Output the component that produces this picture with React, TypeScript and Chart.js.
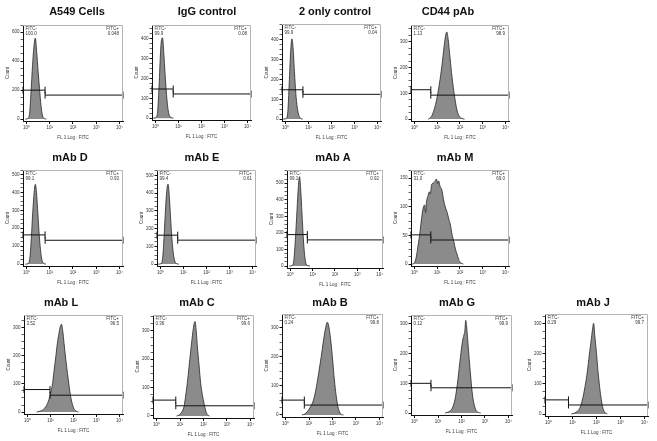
import React, { useEffect, useRef } from "react";
import { Chart, registerables } from "chart.js";

Chart.register(...registerables);

// Panel titles, row by row
const TITLES = [
  "A549 Cells", "IgG control", "2 only control", "CD44 pAb",
  "mAb D", "mAb E", "mAb A", "mAb M",
  "mAb L", "mAb C", "mAb B", "mAb G", "mAb J",
];

// Histograms: [log10 FL1 intensity, event count]
const HIST_A549: [number, number][] = [
  [-0.05, 0], [0.06, 4], [0.14, 50], [0.2, 200], [0.26, 370], [0.32, 500], [0.38, 560],
  [0.44, 460], [0.5, 330], [0.56, 210], [0.62, 100], [0.68, 30], [0.75, 6], [0.85, 0],
];
const HIST_IGG: [number, number][] = [
  [-0.1, 0], [0.04, 5], [0.1, 40], [0.16, 170], [0.22, 330], [0.27, 400], [0.31, 405],
  [0.36, 330], [0.42, 220], [0.48, 120], [0.54, 50], [0.6, 15], [0.68, 3], [0.78, 0],
];
const HIST_2ONLY: [number, number][] = [
  [-0.1, 0], [0.05, 4], [0.11, 50], [0.17, 200], [0.23, 350], [0.28, 405], [0.33, 360],
  [0.39, 240], [0.45, 130], [0.51, 60], [0.58, 20], [0.66, 4], [0.75, 0],
];
const HIST_CD44: [number, number][] = [
  [0.6, 0], [0.67, 3], [0.8, 20], [0.97, 73], [1.1, 140], [1.2, 202], [1.3, 280], [1.37, 325],
  [1.42, 338], [1.48, 310], [1.56, 240], [1.65, 163], [1.75, 95], [1.87, 34], [1.98, 10],
  [2.1, 2], [2.2, 0],
];
const HIST_D: [number, number][] = [
  [-0.05, 0], [0.08, 3], [0.15, 40], [0.21, 150], [0.27, 290], [0.33, 400], [0.38, 445],
  [0.43, 400], [0.49, 280], [0.55, 160], [0.61, 70], [0.67, 20], [0.74, 4], [0.84, 0],
];
const HIST_E: [number, number][] = [
  [-0.1, 0], [0.04, 3], [0.1, 40], [0.16, 160], [0.22, 310], [0.28, 420], [0.33, 450],
  [0.38, 390], [0.44, 260], [0.5, 140], [0.56, 60], [0.62, 18], [0.7, 3], [0.8, 0],
];
const HIST_A: [number, number][] = [
  [-0.05, 0], [0.08, 3], [0.16, 40], [0.23, 170], [0.3, 340], [0.36, 480], [0.41, 540],
  [0.46, 470], [0.52, 320], [0.58, 170], [0.64, 65], [0.7, 15], [0.78, 3], [0.88, 0],
];
const HIST_M: [number, number][] = [
  [-0.1, 0], [0.0, 2], [0.08, 12], [0.15, 30], [0.23, 51], [0.3, 75], [0.38, 97], [0.45, 103],
  [0.49, 90], [0.53, 108], [0.6, 120], [0.66, 126], [0.7, 122], [0.75, 138], [0.82, 141],
  [0.9, 144], [0.95, 148], [0.98, 147], [1.02, 140], [1.06, 145], [1.13, 135], [1.2, 130],
  [1.28, 112], [1.35, 100], [1.43, 91], [1.5, 80], [1.58, 68], [1.65, 52], [1.73, 39],
  [1.8, 26], [1.88, 16], [1.96, 6], [2.05, 2], [2.15, 0],
];
const HIST_L: [number, number][] = [
  [0.4, 0], [0.5, 2], [0.7, 10], [0.87, 30], [1.0, 65], [1.09, 101], [1.16, 150], [1.23, 196],
  [1.3, 245], [1.37, 280], [1.43, 305], [1.48, 312], [1.53, 290], [1.59, 244], [1.66, 190],
  [1.74, 137], [1.81, 92], [1.88, 54], [1.95, 28], [2.03, 10], [2.12, 3], [2.22, 0],
];
const HIST_C: [number, number][] = [
  [0.85, 0], [0.96, 3], [1.06, 12], [1.17, 33], [1.24, 70], [1.31, 115], [1.38, 170],
  [1.46, 232], [1.53, 285], [1.6, 325], [1.64, 333], [1.69, 300], [1.74, 244], [1.81, 180],
  [1.88, 115], [1.95, 75], [2.02, 45], [2.09, 20], [2.16, 5], [2.26, 0],
];
const HIST_B: [number, number][] = [
  [0.7, 0], [0.85, 5], [0.98, 17], [1.09, 32], [1.19, 51], [1.3, 90], [1.41, 143], [1.52, 200],
  [1.62, 257], [1.71, 300], [1.78, 318], [1.85, 300], [1.94, 245], [2.01, 185], [2.08, 120],
  [2.15, 70], [2.23, 29], [2.3, 10], [2.37, 2], [2.47, 0],
];
const HIST_G: [number, number][] = [
  [1.3, 0], [1.45, 4], [1.6, 15], [1.72, 45], [1.82, 95], [1.9, 150], [1.98, 205], [2.05, 245],
  [2.1, 262], [2.14, 275], [2.18, 312], [2.22, 290], [2.27, 240], [2.33, 180], [2.4, 115],
  [2.47, 60], [2.55, 25], [2.63, 8], [2.72, 2], [2.82, 0],
];
const HIST_J: [number, number][] = [
  [0.95, 0], [1.08, 3], [1.2, 9], [1.3, 19], [1.42, 50], [1.52, 91], [1.6, 130], [1.66, 169],
  [1.72, 210], [1.78, 247], [1.83, 280], [1.88, 302], [1.93, 260], [2.0, 202], [2.06, 145],
  [2.13, 91], [2.2, 48], [2.27, 19], [2.35, 5], [2.45, 0],
];

const HISTS = [
  HIST_A549, HIST_IGG, HIST_2ONLY, HIST_CD44,
  HIST_D, HIST_E, HIST_A, HIST_M,
  HIST_L, HIST_C, HIST_B, HIST_G, HIST_J,
];

// Count axis range and labelled step per panel
const Y_MAX = [650, 470, 480, 365, 525, 530, 580, 164, 345, 356, 346, 330, 333];
const Y_STEP = [200, 100, 100, 100, 100, 100, 100, 50, 100, 100, 100, 100, 100];

// Gate boundary (log10) and the drawn height of the FITC- / FITC+ gate bars
const GATE_SPLIT = [0.8, 0.77, 0.76, 0.72, 0.8, 0.75, 0.76, 0.72, 0.98, 0.82, 0.8, 0.7, 0.83];
const GATE_NEG_LEVEL = [200, 147, 148, 114, 163, 163, 190, 51, 80, 56, 51, 100, 47];
const GATE_POS_LEVEL = [166, 122, 125, 93, 133, 135, 158, 42, 60, 36, 34, 85, 30];

// Gate percentages
const PCT_NEG = ["100.0", "99.9", "99.9", "1.13", "99.1", "99.4", "99.1", "31.0", "3.52", "0.36", "0.24", "0.12", "0.29"];
const PCT_POS = ["0.048", "0.08", "0.04", "98.9", "0.93", "0.61", "0.92", "69.0", "96.5", "99.6", "99.8", "99.9", "99.7"];

// Log axis decades
const X_TICKS = [0, 1, 2, 3, 4];
const X_MIN = -0.15;
const X_MAX = 4.15;
const SUP = ["\u2070", "\u00b9", "\u00b2", "\u00b3", "\u2074"];

// Plot-area frame of each panel on the page (l/r/t/b) and the title centre
const FRAMES = [
  { l: 23, r: 123, t: 25, b: 121, tx: 77, ty: 12 },
  { l: 152, r: 251, t: 25, b: 120, tx: 207, ty: 12 },
  { l: 282, r: 381, t: 24, b: 121, tx: 335, ty: 12 },
  { l: 411, r: 509, t: 25, b: 121, tx: 448, ty: 12 },
  { l: 23, r: 123, t: 170, b: 266, tx: 70, ty: 158 },
  { l: 157, r: 256, t: 170, b: 266, tx: 202, ty: 158 },
  { l: 287, r: 383, t: 170, b: 268, tx: 333, ty: 158 },
  { l: 411, r: 509, t: 170, b: 266, tx: 455, ty: 158 },
  { l: 24, r: 123, t: 315, b: 414, tx: 61, ty: 303 },
  { l: 153, r: 254, t: 315, b: 418, tx: 197, ty: 303 },
  { l: 282, r: 383, t: 314, b: 417, tx: 330, ty: 303 },
  { l: 411, r: 512, t: 315, b: 415, tx: 457, ty: 303 },
  { l: 545, r: 648, t: 314, b: 416, tx: 593, ty: 303 },
];

const FONT = '"Liberation Sans", Arial, Helvetica, sans-serif';
const SMALL = 4.5;
const Y_AXIS_W = 18;
const X_AXIS_H = 19;

function Panel({ i }: { i: number }) {
  const ref = useRef<HTMLCanvasElement>(null);
  const f = FRAMES[i];
  const cl = f.l - 20;
  const ct = f.ty - 10;
  const cw = f.r + 5 - cl;
  const ch = f.b + 20 - ct;

  useEffect(() => {
    const yMax = Y_MAX[i];
    const step = Y_STEP[i];
    const split = GATE_SPLIT[i];

    const decorations = {
      id: "panelDecor" + i,
      afterDraw(chart: Chart) {
        const { ctx, chartArea: a } = chart;
        ctx.save();
        // light frame on top and right
        ctx.strokeStyle = "#b4b4b4";
        ctx.lineWidth = 1;
        ctx.beginPath();
        ctx.moveTo(a.left, a.top + 0.5);
        ctx.lineTo(a.right - 0.5, a.top + 0.5);
        ctx.lineTo(a.right - 0.5, a.bottom);
        ctx.stroke();
        // title
        ctx.fillStyle = "#111";
        ctx.font = `bold 11px ${FONT}`;
        ctx.textAlign = "center";
        ctx.textBaseline = "middle";
        ctx.fillText(TITLES[i], f.tx - cl, f.ty - ct);
        // gate statistics
        ctx.font = `${SMALL}px ${FONT}`;
        ctx.fillStyle = "#333";
        ctx.textAlign = "left";
        ctx.fillText("FITC-", a.left + 2.5, a.top + 3.5);
        ctx.fillText(PCT_NEG[i], a.left + 2.5, a.top + 8.5);
        ctx.textAlign = "right";
        ctx.fillText("FITC+", a.right - 4, a.top + 3.5);
        ctx.fillText(PCT_POS[i], a.right - 4, a.top + 8.5);
        ctx.restore();
      },
    };

    const gateStyle = {
      borderColor: "#111",
      borderWidth: 1,
      pointStyle: "line" as const,
      rotation: 90,
      pointRadius: 3.5,
      pointBorderColor: "#111",
      pointBorderWidth: 1,
      fill: false,
      tension: 0,
      clip: 4,
    };

    const chart = new Chart(ref.current!, {
      type: "line",
      data: {
        datasets: [
          {
            data: HISTS[i].map(([x, y]) => ({ x, y })),
            fill: "origin",
            backgroundColor: "#8b8b8b",
            borderColor: "#262626",
            borderWidth: 0.8,
            pointRadius: 0,
            cubicInterpolationMode: "monotone",
            order: 2,
          },
          {
            data: [{ x: X_MIN, y: GATE_NEG_LEVEL[i] }, { x: split, y: GATE_NEG_LEVEL[i] }],
            ...gateStyle,
            order: 1,
          },
          {
            data: [{ x: split, y: GATE_POS_LEVEL[i] }, { x: X_MAX, y: GATE_POS_LEVEL[i] }],
            ...gateStyle,
            order: 1,
          },
        ],
      },
      options: {
        responsive: false,
        animation: false,
        devicePixelRatio: 1,
        layout: { padding: { left: 2, top: f.t - ct, right: 5, bottom: 1 } },
        plugins: { legend: { display: false }, tooltip: { enabled: false }, title: { display: false } },
        scales: {
          x: {
            type: "linear",
            min: X_MIN,
            max: X_MAX,
            afterFit: (s: any) => { s.height = X_AXIS_H; },
            afterBuildTicks: (s: any) => { s.ticks = X_TICKS.map((v) => ({ value: v })); },
            ticks: {
              autoSkip: false,
              maxRotation: 0,
              padding: 1.5,
              color: "#333",
              font: { size: SMALL, family: FONT },
              callback: (v: any) => "10" + SUP[Math.round(Number(v))],
            },
            grid: { drawOnChartArea: false, tickLength: 3, color: "#111" },
            border: { color: "#111", width: 1 },
            title: {
              display: true,
              text: "FL 1 Log : FITC",
              color: "#333",
              padding: 0,
              font: { size: SMALL, family: FONT },
            },
          },
          y: {
            type: "linear",
            min: -yMax * 0.02,
            max: yMax,
            afterFit: (s: any) => { s.width = Y_AXIS_W; },
            afterBuildTicks: (s: any) => {
              const t: { value: number }[] = [];
              for (let v = 0; v <= yMax + 1e-6; v += step / 4) t.push({ value: v });
              s.ticks = t;
            },
            ticks: {
              autoSkip: false,
              padding: 1,
              color: "#333",
              font: { size: SMALL, family: FONT },
              callback: (v: any) => (Math.abs(Number(v) % step) < 1e-6 ? String(v) : ""),
            },
            grid: {
              drawOnChartArea: false,
              tickLength: 2.5,
              tickColor: (c: any) => (c.tick && Math.abs(c.tick.value % step) < 1e-6 ? "#111" : "#666"),
            },
            border: { color: "#111", width: 1 },
            title: {
              display: true,
              text: "Count",
              color: "#333",
              padding: 0,
              font: { size: SMALL, family: FONT },
            },
          },
        },
      },
      plugins: [decorations],
    } as any);

    return () => chart.destroy();
  }, [i]);

  return (
    <canvas
      ref={ref}
      width={cw}
      height={ch}
      style={{ position: "absolute", left: cl, top: ct, width: cw, height: ch }}
    />
  );
}

export default function App() {
  return (
    <div style={{ position: "absolute", left: 0, top: 0, width: 657, height: 441, background: "#fff" }}>
      {TITLES.map((_, i) => (
        <Panel key={i} i={i} />
      ))}
    </div>
  );
}
